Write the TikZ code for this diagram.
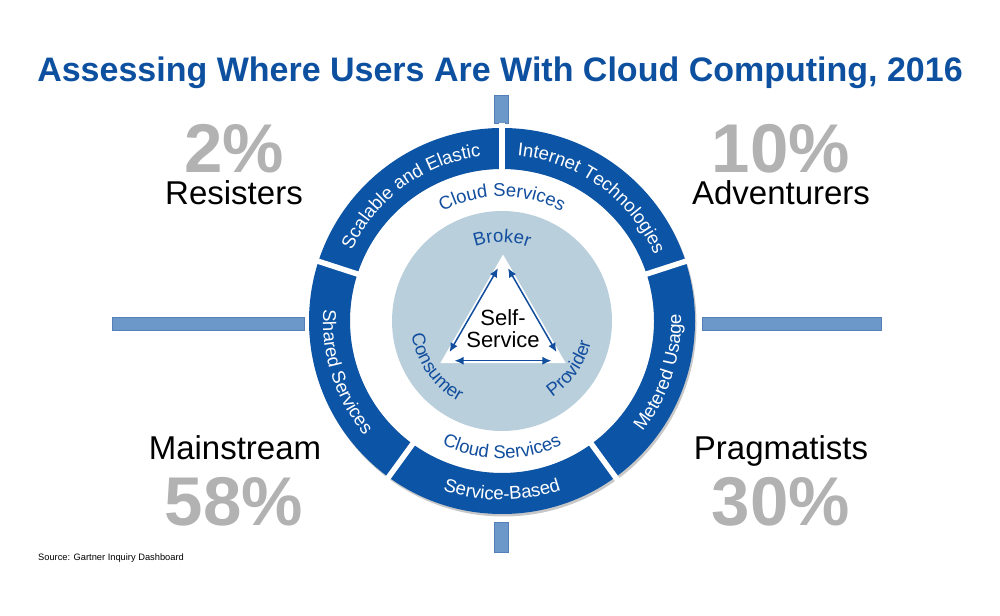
\documentclass[tikz,border=0pt]{standalone}
\usepackage{fontspec}
\setmainfont{Liberation Sans}
\usetikzlibrary{arrows.meta,decorations.text,calc}
\definecolor{titleblue}{RGB}{14,80,160}
\definecolor{ringblue}{RGB}{12,84,165}
\definecolor{lightdisk}{RGB}{185,207,220}
\definecolor{barblue}{RGB}{107,152,200}
\definecolor{baredge}{RGB}{84,128,186}
\definecolor{pctgray}{RGB}{178,178,178}
\definecolor{innerblue}{RGB}{18,78,158}
\newcommand{\ringfont}{\fontsize{18.5}{18.5}\selectfont\color{white}}
\newcommand{\innerfont}{\fontsize{18.5}{18.5}\selectfont\color{innerblue}}
\newcommand{\ArcLabel}[5]{%
  \path[decorate, decoration={text along path, text align=center, text={|#4|#5}}]
    ([shift={(#2:#1)}]C) arc[start angle=#2, end angle=#3, radius=#1];}
\begin{document}
\begin{tikzpicture}[x=1pt,y=1pt,
  bar/.style={fill=barblue, draw=baredge, line width=0.8pt},
  pct/.style={font=\fontsize{69}{69}\selectfont\bfseries, text=pctgray, inner sep=0pt, anchor=base},
  grp/.style={font=\fontsize{33}{33}\selectfont, text=black, inner sep=0pt, anchor=base},
  triarrow/.style={draw=innerblue, line width=1.5pt,
    {Latex[length=9pt,width=8pt]}-{Latex[length=9pt,width=8pt]},
    shorten <=10pt, shorten >=10pt},
  gap/.style={draw=white, line width=5.5pt}
]
\fill[white] (0,0) rectangle (1000,615);
\useasboundingbox (0,0) rectangle (1000,615);

\coordinate (C) at (502,294);
\coordinate (T) at (503,288);

% bars
\draw[bar] (112,285) rectangle (304,298);
\draw[bar] (702,285) rectangle (881,298);
\draw[bar] (494,492) rectangle (508,520);
\draw[bar] (494,63) rectangle (508,93);

% ring with soft shadow
\fill[black, opacity=0.22] ([shift={(1.5pt,-2.5pt)}]C) circle[radius=193pt];
\fill[white] (C) circle[radius=152pt];
\fill[ringblue, even odd rule] (C) circle[radius=193pt] (C) circle[radius=152pt];
\foreach \a in {90,18,-54,-126,162}
  \draw[gap] ([shift={(\a:149pt)}]C) -- ([shift={(\a:198pt)}]C);

% inner disk
\fill[lightdisk] (C) circle[radius=110pt];

% triangle
\path (T) ++(90:72.5pt) coordinate (TA)
      (T) ++(210:72.5pt) coordinate (TL)
      (T) ++(330:72.5pt) coordinate (TR)
      (T) ++(90:67.5pt) coordinate (ia)
      (T) ++(210:67.5pt) coordinate (il)
      (T) ++(330:67.5pt) coordinate (ir);
\fill[white] (TA) -- (TL) -- (TR) -- cycle;
\draw[triarrow] (ia) -- (il);
\draw[triarrow] (ia) -- (ir);
\draw[triarrow] (il) -- (ir);
\node[align=center, font=\fontsize{22}{22}\selectfont, inner sep=0pt] (self) at (503,286) {Self-\\Service};

% arc labels
\ArcLabel{166pt}{162}{90}{\ringfont}{Scalable and Elastic}
\ArcLabel{166pt}{90}{18}{\ringfont}{Internet Technologies}
\ArcLabel{179pt}{-54}{18}{\ringfont}{Metered Usage}
\ArcLabel{179pt}{-126}{-54}{\ringfont}{Service-Based}
\ArcLabel{179pt}{162}{234}{\ringfont}{Shared Services}
\ArcLabel{124.5pt}{140}{40}{\innerfont}{Cloud Services}
\ArcLabel{137.5pt}{-140}{-40}{\innerfont}{Cloud Services}
\ArcLabel{78.6pt}{130}{50}{\innerfont}{Broker}
\ArcLabel{91.4pt}{175}{255}{\innerfont}{Consumer}
\ArcLabel{91.4pt}{-75}{5}{\innerfont}{Provider}

% title
\node[font=\fontsize{34}{34}\selectfont\bfseries, text=titleblue, anchor=base, inner sep=0pt] (title) at (500,533) {Assessing Where Users Are With Cloud Computing, 2016};

% groups
\node[pct] (p2) at (234,442) {2\%};
\node[grp] (res) at (234,410) {Resisters};
\node[pct] (p10) at (781,442) {10\%};
\node[grp] (adv) at (781,410) {Adventurers};
\node[grp] (main) at (235,155) {Mainstream};
\node[pct] (p58) at (234,89) {58\%};
\node[grp] (prag) at (781,155) {Pragmatists};
\node[pct] (p30) at (781,89) {30\%};

\node[font=\fontsize{9.3}{10}\selectfont, anchor=base west, inner sep=0pt] (src) at (38,54) {Source: Gartner Inquiry Dashboard};
\end{tikzpicture}
\end{document}
